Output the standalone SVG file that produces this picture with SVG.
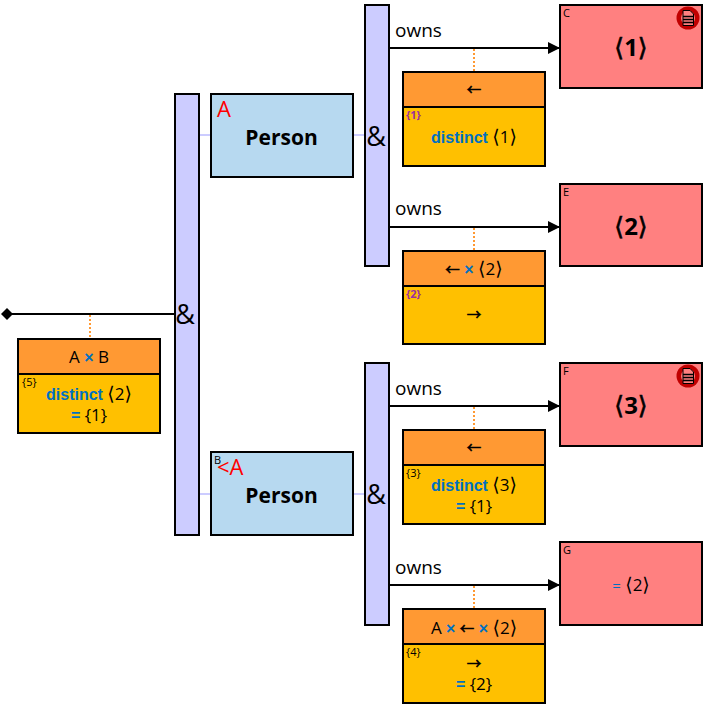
<svg xmlns="http://www.w3.org/2000/svg" width="703" height="704" viewBox="0 0 703 704">
<style>
text{font-family:"Open Sans",sans-serif;fill:#000;text-anchor:middle}
.bar{fill:#ccf;stroke:#000;stroke-width:2}
.ent{fill:#b7d9f0;stroke:#000;stroke-width:2}
.attr{fill:#ff8080;stroke:#000;stroke-width:2}
.head{fill:#f93;stroke:#000;stroke-width:2}
.body{fill:#ffc000;stroke:#000;stroke-width:2}
.wire{stroke:#000;stroke-width:2;fill:none}
.link{stroke:#ccf;stroke-width:2;fill:none}
.dots{stroke:#f93;stroke-width:2;stroke-dasharray:2 2;fill:none}
.amp{font-size:27px}
.owns{font-size:19px;text-anchor:start}
.name{font-size:21px;font-weight:700}
.role{font-size:22px;fill:#f00;text-anchor:start}
.big{font-size:24px;font-weight:700}
.big .b{font-size:25px;font-family:"DejaVu Sans",sans-serif;font-weight:400;stroke:#000;stroke-width:.6px}
.t{font-size:17px}
.k{fill:#0070c0;font-weight:700;font-size:16px;font-family:"Liberation Sans",sans-serif}
.b{font-size:19px;font-family:"DejaVu Sans",sans-serif}
.ar{font-size:14.500px;font-family:"Noto Sans CJK SC",sans-serif;stroke:#000;stroke-width:.5px}
.tag{font-size:11px;text-anchor:start}
.p{fill:#9a2fa0;font-weight:700}
.id{font-size:11px;text-anchor:start}
</style>
<defs>
<marker id="arrow" markerUnits="userSpaceOnUse" markerWidth="12" markerHeight="12" refX="12" refY="6" orient="auto"><path d="M0 0L12 6L0 12Z" fill="#000"/></marker>
<g id="flag"><circle r="11.500" fill="#c00000"/><circle r="7" fill="#ff8080"/><path d="M-5-7.500H2L5.500-4V7.500H-5Z" fill="#ff8080" stroke="#000" stroke-width="1"/><path d="M-5-1.500H5.500M-5 1.500H5.500M-5 4.500H5.500" stroke="#000" stroke-width="1.500"/></g>
</defs>
<g id="connectors">
<path class="wire" d="M7 314H175"/>
<path d="M7 308L13 314L7 320L1 314Z" fill="#000"/>
<path class="dots" d="M90 315V338"/>
<path class="link" d="M199 135H211M199 494H211M353 135H365M353 494H365"/>
<path class="wire" marker-end="url(#arrow)" d="M389 48H560"/>
<path class="wire" marker-end="url(#arrow)" d="M389 227H560"/>
<path class="wire" marker-end="url(#arrow)" d="M389 406H560"/>
<path class="wire" marker-end="url(#arrow)" d="M389 585H560"/>
<path class="dots" d="M474 49V71M474 228V250M474 407V429M474 586V608"/>
</g>
<g id="root-and"><rect class="bar" x="175" y="94" width="24" height="441"/><text class="amp" x="185" y="324">&amp;</text></g>
<g id="and-a"><rect class="bar" x="365" y="5" width="24" height="261"/><text class="amp" x="376" y="146">&amp;</text></g>
<g id="and-b"><rect class="bar" x="365" y="363" width="24" height="262"/><text class="amp" x="376" y="504">&amp;</text></g>
<g id="person-a"><rect class="ent" x="211" y="94" width="142" height="83"/><text class="role" x="217" y="117">A</text><text class="name" x="281.500" y="145">Person</text></g>
<g id="person-b"><rect class="ent" x="211" y="452" width="142" height="83"/><text class="id" x="214" y="464">B</text><text class="role" x="217" y="475">&lt;A</text><text class="name" x="281.500" y="503">Person</text></g>
<g id="attr-c"><rect class="attr" x="560" y="5" width="142" height="83"/><text class="id" x="563" y="17">C</text><use href="#flag" x="688" y="18"/><text class="big" x="631" y="56"><tspan class="b">⟨</tspan>1<tspan class="b">⟩</tspan></text></g>
<g id="attr-e"><rect class="attr" x="560" y="184" width="142" height="82"/><text class="id" x="563" y="196">E</text><text class="big" x="631" y="235"><tspan class="b">⟨</tspan>2<tspan class="b">⟩</tspan></text></g>
<g id="attr-f"><rect class="attr" x="560" y="363" width="142" height="83"/><text class="id" x="563" y="375">F</text><use href="#flag" x="688" y="376"/><text class="big" x="631" y="414"><tspan class="b">⟨</tspan>3<tspan class="b">⟩</tspan></text></g>
<g id="attr-g"><rect class="attr" x="560" y="542" width="142" height="83"/><text class="id" x="563" y="554">G</text><text class="t" x="631" y="591"><tspan fill="#0070c0" font-size="15">=</tspan> <tspan class="b">⟨</tspan>2<tspan class="b">⟩</tspan></text></g>
<g id="owns-labels"><text class="owns" x="395" y="37">owns</text><text class="owns" x="395" y="215">owns</text><text class="owns" x="395" y="395">owns</text><text class="owns" x="395" y="574">owns</text></g>
<g id="card-5"><rect class="head" x="18" y="339" width="142" height="35"/><rect class="body" x="18" y="374" width="142" height="59"/><text class="t" x="89" y="363">A <tspan class="k">×</tspan> B</text><text class="tag" x="22" y="386">{5}</text><text class="t" x="89" y="400"><tspan class="k">distinct</tspan> <tspan class="b">⟨</tspan>2<tspan class="b">⟩</tspan></text><text class="t" x="89" y="421"><tspan class="k">=</tspan> {1}</text></g>
<g id="card-1"><rect class="head" x="403" y="72" width="142" height="35"/><rect class="body" x="403" y="107" width="142" height="59"/><text class="t" x="474" y="95"><tspan class="ar">←</tspan></text><text class="tag p" x="406" y="119">{1}</text><text class="t" x="474" y="143"><tspan class="k">distinct</tspan> <tspan class="b">⟨</tspan>1<tspan class="b">⟩</tspan></text></g>
<g id="card-2"><rect class="head" x="403" y="251" width="142" height="35"/><rect class="body" x="403" y="286" width="142" height="58"/><text class="t" x="474" y="275"><tspan class="ar">←</tspan> <tspan class="k">×</tspan> <tspan class="b">⟨</tspan>2<tspan class="b">⟩</tspan></text><text class="tag p" x="406" y="298">{2}</text><text class="t" x="474" y="320"><tspan class="ar">→</tspan></text></g>
<g id="card-3"><rect class="head" x="403" y="430" width="142" height="35"/><rect class="body" x="403" y="465" width="142" height="59"/><text class="t" x="474" y="453"><tspan class="ar">←</tspan></text><text class="tag" x="406" y="477">{3}</text><text class="t" x="474" y="491"><tspan class="k">distinct</tspan> <tspan class="b">⟨</tspan>3<tspan class="b">⟩</tspan></text><text class="t" x="474" y="512"><tspan class="k">=</tspan> {1}</text></g>
<g id="card-4"><rect class="head" x="403" y="609" width="142" height="35"/><rect class="body" x="403" y="644" width="142" height="59"/><text class="t" x="474" y="634">A <tspan class="k">×</tspan> <tspan class="ar">←</tspan> <tspan class="k">×</tspan> <tspan class="b">⟨</tspan>2<tspan class="b">⟩</tspan></text><text class="tag" x="406" y="656">{4}</text><text class="t" x="474" y="669"><tspan class="ar">→</tspan></text><text class="t" x="474" y="690"><tspan class="k">=</tspan> {2}</text></g>
</svg>
